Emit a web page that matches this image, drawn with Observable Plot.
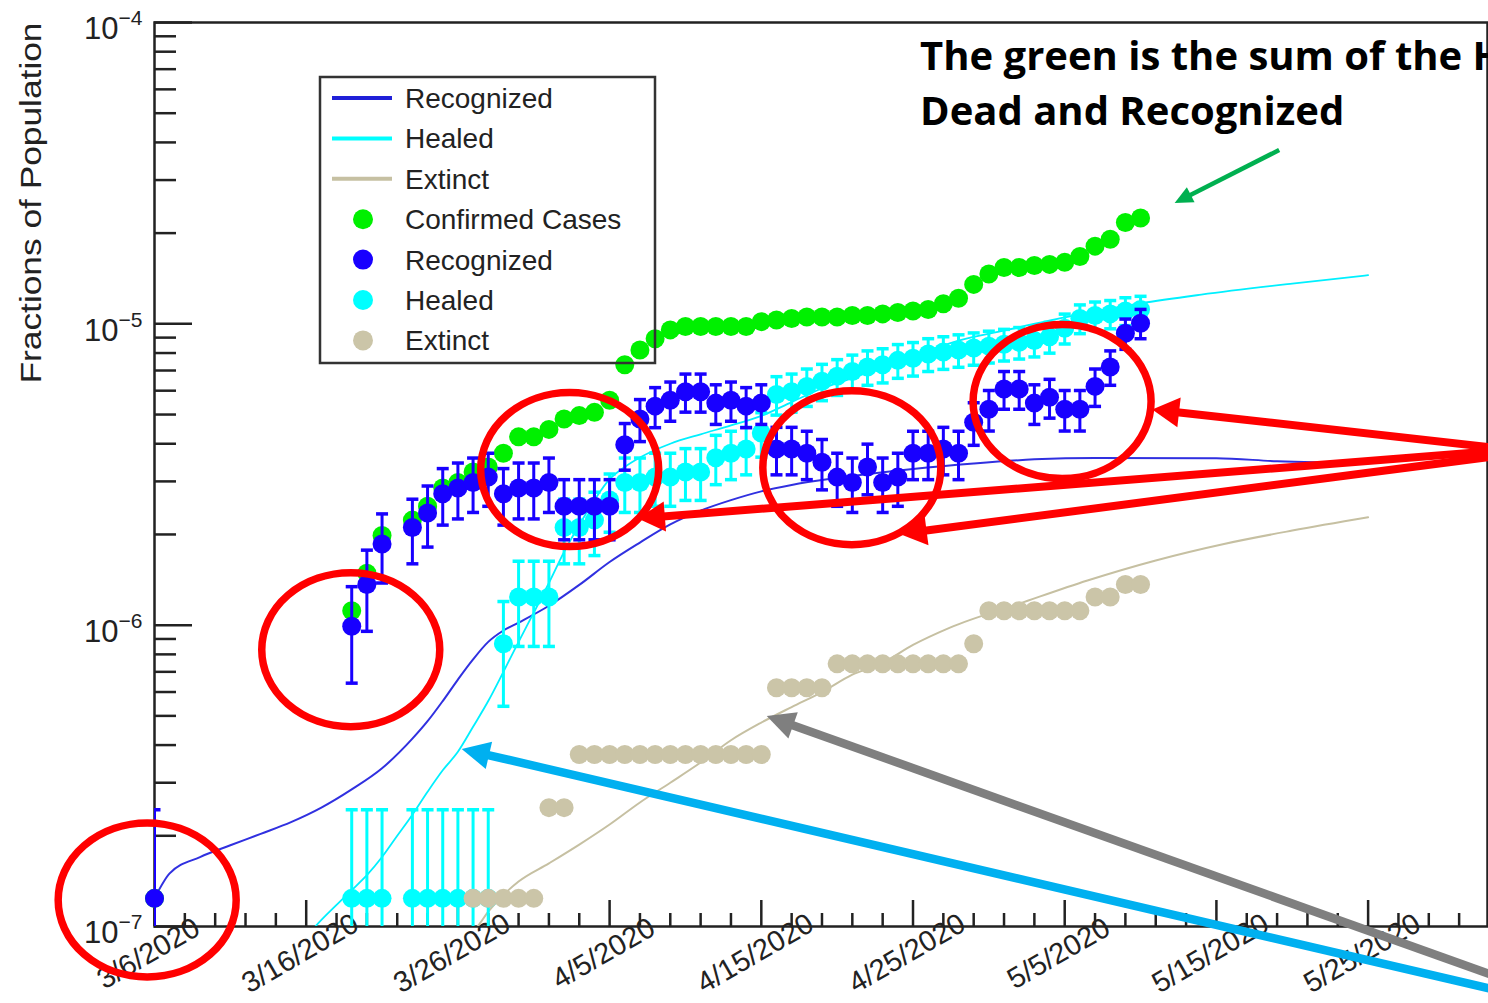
<!DOCTYPE html>
<html>
<head>
<meta charset="utf-8">
<script src="https://cdn.jsdelivr.net/npm/d3@7"></script>
<script src="https://cdn.jsdelivr.net/npm/@observablehq/plot@0.6"></script>
<style>
  html, body { margin: 0; padding: 0; background: #fff; overflow: hidden; }
  #chart svg { display: block; overflow: hidden; }
</style>
</head>
<body>
<div id="chart"></div>
<script>
// ---- Observed daily values (fraction of population, in units of 1e-6) ----
const obsDates = ["3/6","3/19","3/20","3/21","3/23","3/24","3/25","3/26","3/27","3/28","3/29","3/30","3/31",
  "4/1","4/2","4/3","4/4","4/5","4/6","4/7","4/8","4/9","4/10","4/11","4/12","4/13","4/14","4/15","4/16","4/17",
  "4/18","4/19","4/20","4/21","4/22","4/23","4/24","4/25","4/26","4/27","4/28","4/29","4/30",
  "5/1","5/2","5/3","5/4","5/5","5/6","5/7","5/8","5/9","5/10"];

const confirmedCases = [0.124,1.116,1.488,1.984,2.232,2.48,2.852,2.976,3.224,3.348,3.72,4.216,4.216,
  4.464,4.836,4.96,5.084,5.58,7.316,8.184,8.928,9.548,9.796,9.796,9.796,9.796,9.796,10.168,10.292,10.416,
  10.54,10.54,10.54,10.664,10.664,10.788,10.912,11.036,11.16,11.656,12.152,13.516,14.632,
  15.376,15.376,15.624,15.748,15.996,16.74,18.104,19.096,21.70,22.444];

const recognized = [0.124,0.992,1.364,1.86,2.108,2.356,2.728,2.852,2.976,3.10,2.728,2.852,2.852,
  2.976,2.48,2.48,2.48,2.48,3.968,4.836,5.332,5.58,5.952,5.952,5.456,5.58,5.332,5.456,3.844,3.844,
  3.72,3.472,3.10,2.976,3.348,2.976,3.10,3.72,3.72,3.844,3.72,4.712,5.208,
  6.076,6.076,5.456,5.704,5.208,5.208,6.20,7.192,9.30,10.044];
const recognizedErr = [0.12,0.35,0.41,0.48,0.51,0.54,0.58,0.60,0.61,0.62,0.58,0.60,0.60,
  0.61,0.56,0.56,0.56,0.56,0.70,0.77,0.81,0.83,0.86,0.86,0.82,0.83,0.81,0.82,0.69,0.69,
  0.68,0.66,0.62,0.61,0.64,0.61,0.62,0.68,0.68,0.69,0.68,0.76,0.80,
  0.87,0.87,0.82,0.84,0.80,0.80,0.88,0.94,1.07,1.12];

const healed = [null,0.124,0.124,0.124,0.124,0.124,0.124,0.124,0.124,0.124,0.868,1.24,1.24,
  1.24,2.108,2.108,2.232,2.604,2.976,2.976,3.10,3.10,3.224,3.224,3.596,3.72,3.844,4.34,5.828,5.952,
  6.20,6.448,6.696,6.944,7.192,7.316,7.564,7.688,7.936,8.06,8.184,8.308,8.432,
  8.556,8.68,8.804,9.052,9.672,10.416,10.664,10.788,11.036,11.16];
const healedErr = [null,0.12,0.12,0.12,0.12,0.12,0.12,0.12,0.12,0.12,0.33,0.39,0.39,
  0.39,0.51,0.51,0.53,0.57,0.61,0.61,0.62,0.62,0.63,0.63,0.67,0.68,0.69,0.73,0.85,0.86,
  0.88,0.89,0.91,0.93,0.94,0.95,0.97,0.98,0.99,1.00,1.01,1.02,1.02,
  1.03,1.04,1.04,1.06,1.10,1.14,1.15,1.16,1.17,1.18];

const extinct = [null,null,null,null,null,null,null,null,0.124,0.124,0.124,0.124,0.124,
  0.248,0.248,0.372,0.372,0.372,0.372,0.372,0.372,0.372,0.372,0.372,0.372,0.372,0.372,0.372,0.62,0.62,
  0.62,0.62,0.744,0.744,0.744,0.744,0.744,0.744,0.744,0.744,0.744,0.868,1.116,
  1.116,1.116,1.116,1.116,1.116,1.116,1.24,1.24,1.364,1.364];

// ---- Model curves: day offset from 3/6/2020, value in units of 1e-6 ----
const recognizedFitDays = [0,1,3,5,7,9,11,13,15,17,18,19,20,21,22,23,24,26,28,30,32,34,36,38,40,42,45,50,54,58,62,70,74,80];
const recognizedFit = [0.124,0.150,0.170,0.186,0.203,0.222,0.248,0.285,0.335,0.42,0.48,0.56,0.66,0.77,0.88,0.96,1.02,1.16,1.36,1.62,1.88,2.16,2.40,2.60,2.78,2.92,3.08,3.30,3.44,3.55,3.59,3.58,3.50,3.45];

const healedFitDays = [9.5,10.6,12,13,14,15,16,17,18,19,20,21,22,23,24,25,26,27,28,29,30,31,32,34,36,38,40,42,44,46,48,50,53,56,60,65,69,75,80];
const healedFit = [0.085,0.100,0.118,0.132,0.148,0.17,0.20,0.235,0.28,0.33,0.38,0.46,0.56,0.70,0.88,1.10,1.38,1.75,2.15,2.6,3.05,3.35,3.6,4.0,4.3,4.6,4.95,5.5,6.1,6.6,7.2,7.8,8.8,9.5,10.5,11.7,12.5,13.6,14.5];

const extinctFitDays = [20,21.3,22,24,26,28,30,32,34,36,38,40,42,44,46,48,50,52.4,57,61.5,66,70.5,75,80];
const extinctFit = [0.085,0.100,0.112,0.141,0.162,0.187,0.218,0.258,0.300,0.350,0.415,0.475,0.535,0.600,0.685,0.75,0.86,0.98,1.178,1.407,1.64,1.86,2.06,2.28];

// ---- Axis and legend text ----
const xTickLabels = ["3/6/2020","3/16/2020","3/26/2020","4/5/2020","4/15/2020","4/25/2020","5/5/2020","5/15/2020","5/25/2020"];
const yTicks = [1e-7, 1e-6, 1e-5, 1e-4];
const yTitle = "Fractions of Population";
const legendLabels = ["Recognized","Healed","Extinct","Confirmed Cases","Recognized","Healed","Extinct"];
const noteLines = ["The green is the sum of the H", "Dead and Recognized"];

// ---- Annotation anchors (day offset, fraction of population) ----
const circledRegions = [[-0.45, 1.22e-7], [12.97, 8.26e-7], [27.4, 3.27e-6], [46.0, 3.32e-6], [59.86, 5.50e-6]];
const redPointers = [ // [tail, tip]
  [[88.7, 3.85e-6], [65.8, 5.18e-6]],
  [[88.7, 3.78e-6], [31.9, 2.25e-6]],
  [[88.7, 3.64e-6], [49.16, 2.0e-6]]
];
const bluePointer = [[88.7, 6.09e-8], [20.28, 3.87e-7]];
const grayPointer = [[88.7, 6.74e-8], [40.39, 4.98e-7]];
const greenPointer = [[74.17, 3.76e-5], [67.28, 2.51e-5]];
const noteAnchor = [[50.5, 6.93e-5], [50.5, 4.55e-5]];

// ---- Helpers ----
const PPM = 1e-6;
const DAY = 864e5;
const t0 = Date.UTC(2020, 2, 6);
const dayN = n => new Date(t0 + n * DAY);
const parseDate = s => { const [m, d, y = 2020] = s.split("/").map(Number); return new Date(Date.UTC(y, m - 1, d)); };

function obsRows(values, errors) {
  return obsDates.map((s, i) => ({
    date: parseDate(s),
    v: values[i] == null ? null : values[i] * PPM,
    e: errors && errors[i] != null ? errors[i] * PPM : 0
  })).filter(d => d.v != null).map(d => ({...d, hi: d.v + d.e, lo: d.v - d.e > 0 ? d.v - d.e : 1e-9}));
}
const fitRows = (days, vals) => days.map((n, i) => ({date: dayN(n), v: vals[i] * PPM}));

const confirmedRows = obsRows(confirmedCases);
const recognizedRows = obsRows(recognized, recognizedErr);
const healedRows = obsRows(healed, healedErr);
const extinctRows = obsRows(extinct);

const C = {
  green: "#00f000", blue: "#1800ff", cyan: "#00ffff", tan: "#cbc5a8",
  blueLine: "#3030e0", cyanLine: "#00f0ff", tanLine: "#c6c0a2", axis: "#222", text: "#222"
};
const FONT = "'Liberation Sans', Arial, Helvetica, sans-serif";

const W = 1488, H = 1003;
const M = {left: 154, right: 1, top: 22, bottom: 77};
const frameW = W - M.left - M.right;
const frameH = H - M.top - M.bottom;

const xMajor = xTickLabels.map(parseDate);
const xMinor = d3.range(2, 88, 2).filter(n => n % 10 !== 0).map(dayN);
const yMinor = [-7, -6, -5].flatMap(k => d3.range(2, 10).map(m => m * Math.pow(10, k)));
const labelByTime = new Map(xMajor.map((d, i) => [+d, xTickLabels[i]]));

// Error-bar cap: short horizontal stroke
const cap = {draw(ctx, size) { const r = Math.sqrt(size / Math.PI); ctx.moveTo(-r, 0); ctx.lineTo(r, 0); }};

function errorBars(rows, color) {
  return [
    Plot.ruleX(rows, {x: "date", y1: "lo", y2: "hi", stroke: color, strokeWidth: 3, clip: true}),
    Plot.dot(rows, {x: "date", y: "hi", symbol: cap, r: 6, stroke: color, strokeWidth: 3.5, fill: "none", clip: true}),
    Plot.dot(rows, {x: "date", y: "lo", symbol: cap, r: 6, stroke: color, strokeWidth: 3.5, fill: "none", clip: true})
  ];
}

const plot = Plot.plot({
  width: W, height: H,
  marginLeft: M.left, marginRight: M.right, marginTop: M.top, marginBottom: M.bottom,
  style: {fontFamily: FONT, color: C.text, background: "#fff", overflow: "hidden"},
  x: {type: "utc", domain: [dayN(0), dayN(87.87)]},
  y: {type: "log", domain: [1e-7, 1e-4]},
  marks: [
    Plot.frame({stroke: C.axis, strokeWidth: 2.5}),
    Plot.tickX(xMajor, {x: d => d, insetTop: frameH - 26, stroke: C.axis, strokeWidth: 2.5}),
    Plot.tickX(xMinor, {x: d => d, insetTop: frameH - 13, stroke: C.axis, strokeWidth: 2.5}),
    Plot.tickY(yTicks, {y: d => d, insetRight: frameW - 38, stroke: C.axis, strokeWidth: 2.5}),
    Plot.tickY(yMinor, {y: d => d, insetRight: frameW - 22, stroke: C.axis, strokeWidth: 2.5}),
    Plot.axisX(xMajor, {tickSize: 0, tickPadding: 0, tickRotate: -30, textAnchor: "middle", lineAnchor: "middle",
      dx: -6, dy: 27, fontSize: 29, fill: C.text, tickFormat: d => labelByTime.get(+d), label: null}),
    Plot.axisY(yTicks, {tickSize: 0, tickPadding: 12, dy: 7, fontSize: 31, fill: C.text,
      tickFormat: d => `10^${Math.round(Math.log10(d))}`, label: null}),
    Plot.text([yTitle], {frameAnchor: "top-left", text: d => d, rotate: -90, textAnchor: "end", lineAnchor: "middle",
      dx: -123, fontSize: 30, fill: C.text}),

    // model curves
    Plot.line(fitRows(recognizedFitDays, recognizedFit), {x: "date", y: "v", stroke: C.blueLine, strokeWidth: 2, curve: "monotone-x", clip: true}),
    Plot.line(fitRows(healedFitDays, healedFit), {x: "date", y: "v", stroke: C.cyanLine, strokeWidth: 1.8, curve: "monotone-x", clip: true}),
    Plot.line(fitRows(extinctFitDays, extinctFit), {x: "date", y: "v", stroke: C.tanLine, strokeWidth: 2, curve: "monotone-x", clip: true}),

    // observations
    Plot.dot(confirmedRows, {x: "date", y: "v", r: 9.5, fill: C.green}),
    ...errorBars(healedRows, C.cyan),
    Plot.dot(healedRows, {x: "date", y: "v", r: 9.5, fill: C.cyan}),
    Plot.dot(extinctRows, {x: "date", y: "v", r: 9.5, fill: C.tan}),
    ...errorBars(recognizedRows, C.blue),
    Plot.dot(recognizedRows, {x: "date", y: "v", r: 9.5, fill: C.blue})
  ]
});

document.getElementById("chart").append(plot);

const svg = d3.select(plot);

svg.selectAll("text").each(function() {
  const t = d3.select(this);
  const s = this.textContent;
  if (/^10\^/.test(s)) {
    // Power-of-ten tick labels: "10" with a raised exponent
    const exp = s.split("^")[1].replace("-", "\u2212");
    t.text("10");
    t.append("tspan").attr("dy", -14).attr("font-size", 21).text(exp);
  } else if (s === yTitle) {
    // Axis title runs the length of the upper part of the axis
    t.attr("textLength", 361).attr("lengthAdjust", "spacingAndGlyphs");
  }
});

// ---- Legend ----
const legend = svg.append("g").attr("font-family", FONT).attr("font-size", 28)
  .attr("fill", C.text).attr("text-anchor", "start");
legend.append("rect").attr("x", 320).attr("y", 77).attr("width", 335).attr("height", 286)
  .attr("fill", "none").attr("stroke", "#333").attr("stroke-width", 2.5);
const legendKinds = [
  {type: "line", color: "#2020d8", w: 4}, {type: "line", color: C.cyan, w: 4}, {type: "line", color: C.tanLine, w: 4},
  {type: "dot", color: C.green}, {type: "dot", color: C.blue}, {type: "dot", color: C.cyan}, {type: "dot", color: C.tan}
];
legendLabels.forEach((label, i) => {
  const cy = 98 + i * 40.4;
  const k = legendKinds[i];
  if (k.type === "line") {
    legend.append("line").attr("x1", 332).attr("x2", 392).attr("y1", cy).attr("y2", cy)
      .attr("stroke", k.color).attr("stroke-width", k.w);
  } else {
    legend.append("circle").attr("cx", 363).attr("cy", cy).attr("r", 10).attr("fill", k.color);
  }
  legend.append("text").attr("x", 405).attr("y", cy).attr("dy", "0.36em").text(label);
});

// ---- Annotations ----
const sx = plot.scale("x"), sy = plot.scale("y");
const X = n => sx.apply(dayN(n)), Y = v => sy.apply(v);
const notes = svg.append("g");

circledRegions.forEach(([n, v]) => {
  notes.append("ellipse").attr("cx", X(n)).attr("cy", Y(v)).attr("rx", 89).attr("ry", 77)
    .attr("fill", "none").attr("stroke", "#ff0000").attr("stroke-width", 7.5);
});

function pointer([[n1, v1], [n2, v2]], color, width, headLen, headW) {
  const x1 = X(n1), y1 = Y(v1), x2 = X(n2), y2 = Y(v2);
  const dx = x2 - x1, dy = y2 - y1, L = Math.hypot(dx, dy), ux = dx / L, uy = dy / L;
  const bx = x2 - ux * headLen, by = y2 - uy * headLen;
  notes.append("line").attr("x1", x1).attr("y1", y1).attr("x2", bx + ux * 2).attr("y2", by + uy * 2)
    .attr("stroke", color).attr("stroke-width", width);
  notes.append("path")
    .attr("d", `M${x2},${y2}L${bx - uy * headW / 2},${by + ux * headW / 2}L${bx + uy * headW / 2},${by - ux * headW / 2}Z`)
    .attr("fill", color);
}
redPointers.forEach(p => pointer(p, "#ff0000", 8, 27, 30));
pointer(bluePointer, "#00b0f0", 8.5, 28, 28);
pointer(grayPointer, "#7f7f7f", 8.5, 28, 28);
pointer(greenPointer, "#00b050", 4.5, 18, 17);

noteLines.forEach((line, i) => {
  notes.append("text").attr("x", X(noteAnchor[i][0])).attr("y", Y(noteAnchor[i][1]))
    .attr("text-anchor", "start")
    .attr("font-family", "'Open Sans', Lato, sans-serif").attr("font-weight", 700).attr("font-size", 40)
    .attr("fill", "#000").text(line);
});
</script>
</body>
</html>
